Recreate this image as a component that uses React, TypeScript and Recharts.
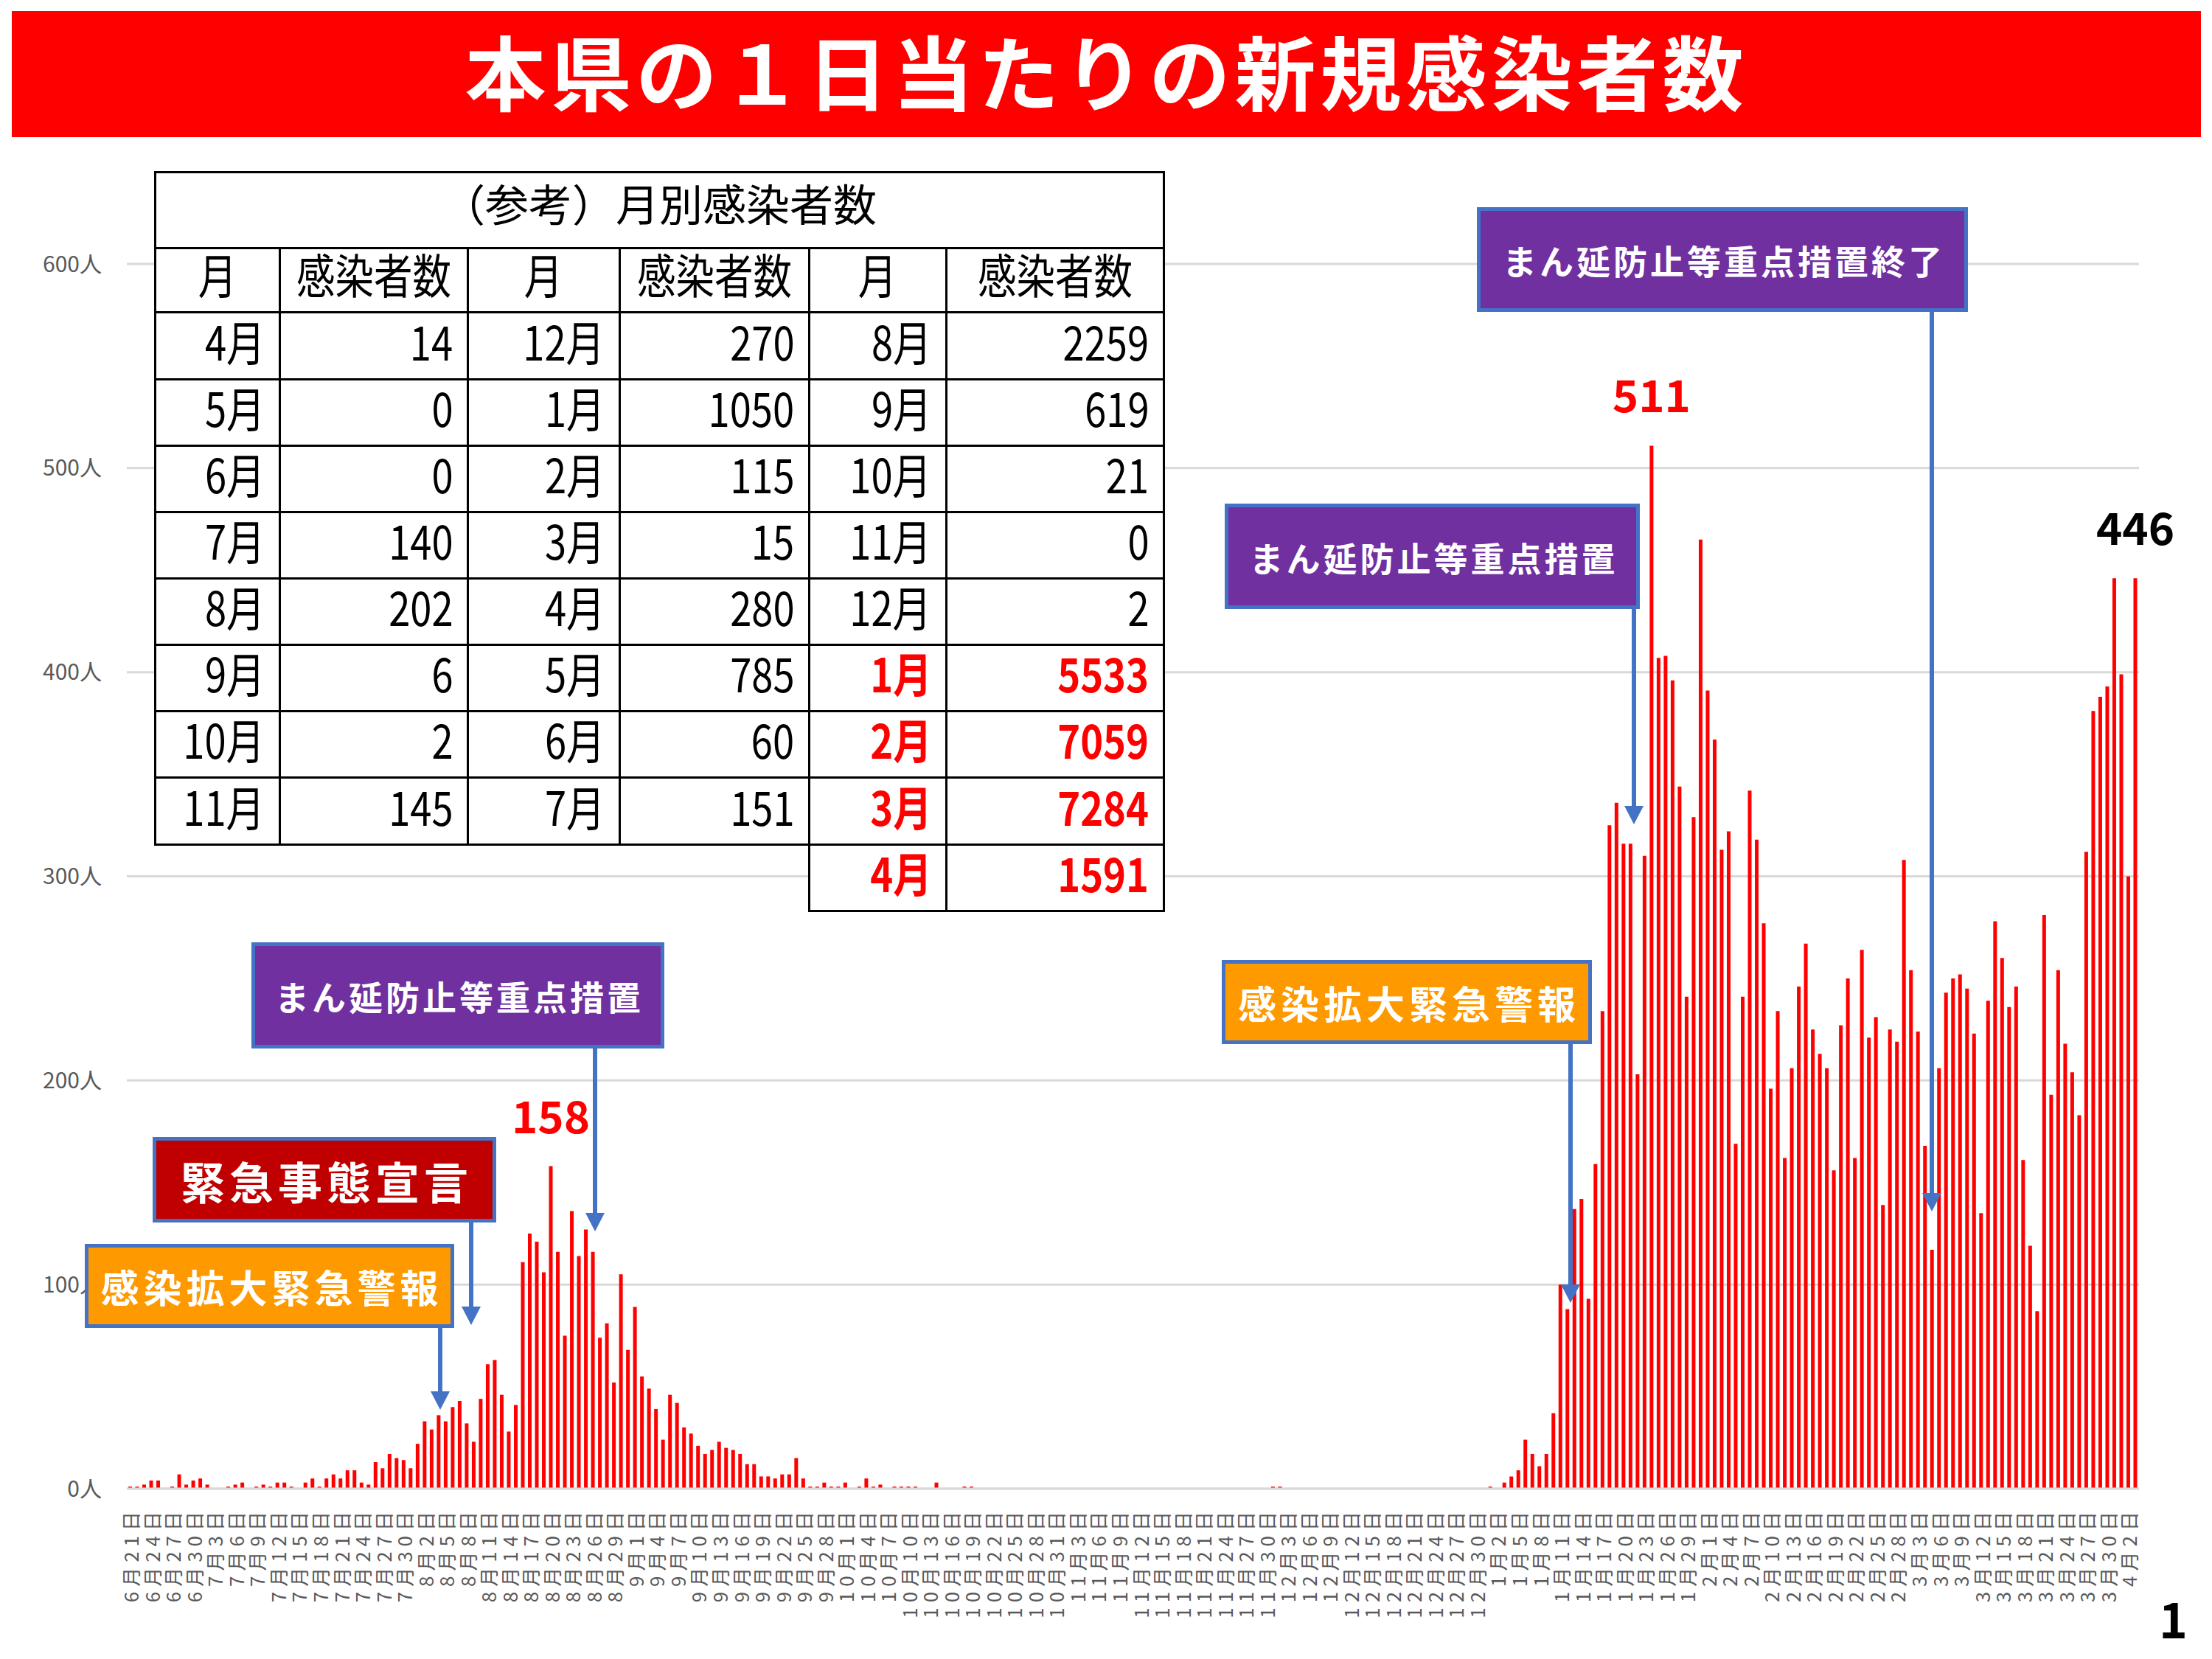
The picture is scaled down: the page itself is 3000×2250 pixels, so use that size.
import React from "react";
import { BarChart, Bar, XAxis, YAxis, CartesianGrid, LabelList } from "recharts";

// date range of the bars: 2021-06-21 .. 2022-04-03
const MONTH_SPANS = [
  { month: 6, first: 21, last: 30 },
  { month: 7, first: 1, last: 31 },
  { month: 8, first: 1, last: 31 },
  { month: 9, first: 1, last: 30 },
  { month: 10, first: 1, last: 31 },
  { month: 11, first: 1, last: 30 },
  { month: 12, first: 1, last: 31 },
  { month: 1, first: 1, last: 31 },
  { month: 2, first: 1, last: 28 },
  { month: 3, first: 1, last: 31 },
  { month: 4, first: 1, last: 3 },
];

// daily new cases, one array per month
const jun = [1, 1, 2, 4, 4, 0, 1, 7, 2, 4];
const jul = [5, 2, 0, 0, 1, 2, 3, 0, 1, 2, 1, 3, 3, 1, 0, 3, 5, 1, 5, 7, 5, 9, 9, 3, 2, 13, 10, 17, 15, 14, 10];
const aug = [22, 33, 29, 36, 33, 40, 43, 32, 23, 44, 61, 63, 46, 28, 41, 111, 125, 121, 106, 158, 116, 75, 136, 114, 127, 116, 74, 81, 52, 105, 68];
const sep = [89, 55, 49, 39, 24, 46, 42, 30, 27, 21, 17, 19, 23, 20, 19, 17, 12, 12, 6, 6, 5, 7, 7, 15, 5, 1, 1, 3, 1, 1];
const oct = [3, 0, 1, 5, 1, 2, 0, 1, 1, 1, 1, 0, 0, 3, 0, 0, 0, 1, 1, 0, 0, 0, 0, 0, 0, 0, 0, 0, 0, 0, 0];
const nov = [0, 0, 0, 0, 0, 0, 0, 0, 0, 0, 0, 0, 0, 0, 0, 0, 0, 0, 0, 0, 0, 0, 0, 0, 0, 0, 0, 0, 0, 0];
const dec = [1, 1, 0, 0, 0, 0, 0, 0, 0, 0, 0, 0, 0, 0, 0, 0, 0, 0, 0, 0, 0, 0, 0, 0, 0, 0, 0, 0, 0, 0, 0];
const jan = [1, 0, 3, 6, 9, 24, 17, 11, 17, 37, 100, 88, 137, 142, 93, 159, 234, 325, 336, 316, 316, 203, 310, 511, 407, 408, 396, 344, 241, 329, 465];
const feb = [391, 367, 313, 322, 169, 241, 342, 318, 277, 196, 234, 162, 206, 246, 267, 225, 213, 206, 156, 227, 250, 162, 264, 221, 231, 139, 225, 219];
const mar = [308, 254, 224, 168, 117, 206, 243, 250, 252, 245, 223, 135, 239, 278, 260, 236, 246, 161, 119, 87, 281, 193, 254, 218, 204, 183, 312, 381, 388, 393, 446];
const apr = [399, 300, 446];

const Y_TICKS = [0, 100, 200, 300, 400, 500, 600];
const RED_PEAK_DATES = ["8月20日", "1月24日"];
const BLACK_PEAK_DATES = ["4月3日"];

// reference table (monthly totals)
const TABLE_MONTHS_A = ["4月", "5月", "6月", "7月", "8月", "9月", "10月", "11月"];
const TABLE_CASES_A = [14, 0, 0, 140, 202, 6, 2, 145];
const TABLE_MONTHS_B = ["12月", "1月", "2月", "3月", "4月", "5月", "6月", "7月"];
const TABLE_CASES_B = [270, 1050, 115, 15, 280, 785, 60, 151];
const TABLE_MONTHS_C = ["8月", "9月", "10月", "11月", "12月", "1月", "2月", "3月", "4月"];
const TABLE_CASES_C = [2259, 619, 21, 0, 2, 5533, 7059, 7284, 1591];
const TABLE_RED_FROM = 5;

const dailyValues = [...jun, ...jul, ...aug, ...sep, ...oct, ...nov, ...dec, ...jan, ...feb, ...mar, ...apr];
const dates = MONTH_SPANS.flatMap(({ month, first, last }) => {
  const out: string[] = [];
  for (let d = first; d <= last; d++) out.push(`${month}月${d}日`);
  return out;
});
const chartData = dates.map((date, i) => ({
  date,
  cases: dailyValues[i],
  redPeak: RED_PEAK_DATES.includes(date) ? dailyValues[i] : null,
  blackPeak: BLACK_PEAK_DATES.includes(date) ? dailyValues[i] : null,
}));

const FONT = "'Noto Sans CJK JP', 'Noto Sans', sans-serif";
const GRID = "#D9D9D9";
const AXIS_TEXT = "#595959";
const BAR_RED = "#FF0000";
const BLUE = "#4472C4";

const COL_X = [210, 379, 634, 840, 1097, 1283, 1578];
const ROW_Y = [233, 336, 423, 514, 604, 694, 784, 874, 964, 1054, 1145, 1235];

const DateTick = (props: any) => {
  const { x, y, payload } = props;
  return (
    <g transform={`translate(${x},${y + 24})`}>
      <text
        transform="rotate(-90)"
        textAnchor="end"
        dominantBaseline="central"
        fontSize={26}
        fill={AXIS_TEXT}
        fontFamily={FONT}
        style={{ letterSpacing: 7 }}
      >
        {payload.value}
      </text>
    </g>
  );
};

const peakLabel = (color: string) => (props: any) => {
  const { x, y, width, value } = props;
  if (value === null || value === undefined) return null;
  return (
    <text
      x={Number(x) + Number(width) / 2}
      y={Number(y) - 45}
      textAnchor="middle"
      fill={color}
      fontSize={60}
      fontWeight={700}
      fontFamily={FONT}
    >
      {value}
    </text>
  );
};

function Cell({ c0, c1, r0, r1, children, align = "right", color = "#000", bold = false, size = 64, scale = 0.82, lift = 8 }: any) {
  const x0 = COL_X[c0];
  const x1 = COL_X[c1];
  const y0 = ROW_Y[r0];
  const y1 = ROW_Y[r1];
  return (
    <div
      style={{
        position: "absolute",
        left: x0 - 1.5,
        top: y0 - 1.5,
        width: x1 - x0 + 3,
        height: y1 - y0 + 3,
        boxSizing: "border-box",
        border: "3px solid #000",
        background: "#fff",
        display: "flex",
        alignItems: "center",
        justifyContent: align === "right" ? "flex-end" : "center",
        paddingRight: align === "right" ? 18 : 0,
      }}
    >
      <span
        style={{
          display: "inline-block",
          fontSize: size,
          lineHeight: 1,
          color,
          fontWeight: bold ? 700 : 400,
          transform: `translateY(${-lift}px) scaleX(${scale})`,
          transformOrigin: align === "right" ? "right center" : "center center",
          whiteSpace: "nowrap",
        }}
      >
        {children}
      </span>
    </div>
  );
}

function Callout({ left, top, width, height, bg, text, size, spacing }: any) {
  return (
    <div
      style={{
        position: "absolute",
        left,
        top,
        width,
        height,
        boxSizing: "border-box",
        background: bg,
        border: `5px solid ${BLUE}`,
        display: "flex",
        alignItems: "center",
        justifyContent: "center",
        color: "#fff",
        fontWeight: 700,
        fontSize: size,
        letterSpacing: spacing,
        paddingLeft: spacing,
        whiteSpace: "nowrap",
      }}
    >
      {text}
    </div>
  );
}

const ARROWS = [
  { x: 807, from: 1422, to: 1670 },
  { x: 639, from: 1658, to: 1797 },
  { x: 597, from: 1801, to: 1912 },
  { x: 2130, from: 1416, to: 1767 },
  { x: 2216, from: 826, to: 1118 },
  { x: 2620, from: 423, to: 1643 },
];

export default function App() {
  const tableRows = TABLE_MONTHS_A.map((_, r) => r);
  return (
    <div
      style={{
        position: "absolute",
        left: 0,
        top: 0,
        width: 3000,
        height: 2250,
        background: "#fff",
        overflow: "hidden",
        fontFamily: FONT,
      }}
    >
      <div style={{ position: "absolute", left: 0, top: 0 }}>
        <BarChart
          width={3000}
          height={2250}
          data={chartData}
          margin={{ top: 358, right: 99, bottom: 0, left: 0 }}
          barSize={5}
        >
          <CartesianGrid vertical={false} stroke={GRID} strokeWidth={3} />
          <XAxis
            dataKey="date"
            interval={2}
            height={231}
            tick={<DateTick />}
            tickLine={false}
            tickSize={0}
            tickMargin={0}
            axisLine={{ stroke: GRID, strokeWidth: 3 }}
          />
          <YAxis
            domain={[0, 600]}
            ticks={Y_TICKS}
            width={172}
            axisLine={false}
            tickLine={false}
            tickSize={0}
            tickMargin={34}
            tickFormatter={(v) => `${v}人`}
            tick={{ fontSize: 30, fill: AXIS_TEXT, fontFamily: FONT }}
          />
          <Bar dataKey="cases" fill={BAR_RED} isAnimationActive={false}>
            <LabelList dataKey="redPeak" content={peakLabel("#FF0000")} />
            <LabelList dataKey="blackPeak" content={peakLabel("#000000")} />
          </Bar>
        </BarChart>
      </div>

      {/* title */}
      <div
        style={{
          position: "absolute",
          left: 16,
          top: 15,
          width: 2969,
          height: 171,
          boxSizing: "border-box",
          paddingBottom: 14,
          background: "#FF0000",
          color: "#fff",
          fontWeight: 700,
          fontSize: 110,
          letterSpacing: 6,
          display: "flex",
          alignItems: "center",
          justifyContent: "center",
          whiteSpace: "nowrap",
        }}
      >
        本県の１日当たりの新規感染者数
      </div>

      {/* monthly reference table */}
      <Cell c0={0} c1={6} r0={0} r1={1} align="center" size={59} scale={1} lift={10}>
        （参考）月別感染者数
      </Cell>
      {[0, 1, 2, 3, 4, 5].map((c) => (
        <Cell key={`h${c}`} c0={c} c1={c + 1} r0={1} r1={2} align="center" lift={10}>
          {c % 2 === 0 ? "月" : "感染者数"}
        </Cell>
      ))}
      {tableRows.map((r) => (
        <React.Fragment key={`r${r}`}>
          <Cell c0={0} c1={1} r0={2 + r} r1={3 + r}>{TABLE_MONTHS_A[r]}</Cell>
          <Cell c0={1} c1={2} r0={2 + r} r1={3 + r}>{TABLE_CASES_A[r]}</Cell>
          <Cell c0={2} c1={3} r0={2 + r} r1={3 + r}>{TABLE_MONTHS_B[r]}</Cell>
          <Cell c0={3} c1={4} r0={2 + r} r1={3 + r}>{TABLE_CASES_B[r]}</Cell>
        </React.Fragment>
      ))}
      {TABLE_MONTHS_C.map((m, r) => {
        const red = r >= TABLE_RED_FROM;
        return (
          <React.Fragment key={`c${r}`}>
            <Cell c0={4} c1={5} r0={2 + r} r1={3 + r} color={red ? "#FF0000" : "#000"} bold={red}>
              {m}
            </Cell>
            <Cell c0={5} c1={6} r0={2 + r} r1={3 + r} color={red ? "#FF0000" : "#000"} bold={red}>
              {TABLE_CASES_C[r]}
            </Cell>
          </React.Fragment>
        );
      })}

      {/* callouts */}
      <Callout left={341} top={1278} width={560} height={144} bg="#7030A0" text="まん延防止等重点措置" size={46} spacing={4} />
      <Callout left={207} top={1542} width={466} height={116} bg="#C00000" text="緊急事態宣言" size={60} spacing={6} />
      <Callout left={115} top={1687} width={501} height={114} bg="#FF9900" text="感染拡大緊急警報" size={52} spacing={6} />
      <Callout left={1657} top={1302} width={502} height={114} bg="#FF9900" text="感染拡大緊急警報" size={52} spacing={6} />
      <Callout left={1661} top={683} width={563} height={143} bg="#7030A0" text="まん延防止等重点措置" size={46} spacing={4} />
      <Callout left={2003} top={281} width={666} height={142} bg="#7030A0" text="まん延防止等重点措置終了" size={46} spacing={4} />

      <svg
        width={3000}
        height={2250}
        style={{ position: "absolute", left: 0, top: 0, pointerEvents: "none" }}
      >
        {ARROWS.map((a, i) => (
          <g key={i}>
            <line x1={a.x} y1={a.from} x2={a.x} y2={a.to - 22} stroke={BLUE} strokeWidth={6} />
            <polygon points={`${a.x - 13},${a.to - 25} ${a.x + 13},${a.to - 25} ${a.x},${a.to}`} fill={BLUE} />
          </g>
        ))}
      </svg>

      <div
        style={{
          position: "absolute",
          left: 2928,
          top: 2160,
          fontSize: 66,
          lineHeight: 1,
          fontWeight: 700,
          color: "#000",
        }}
      >
        1
      </div>
    </div>
  );
}
